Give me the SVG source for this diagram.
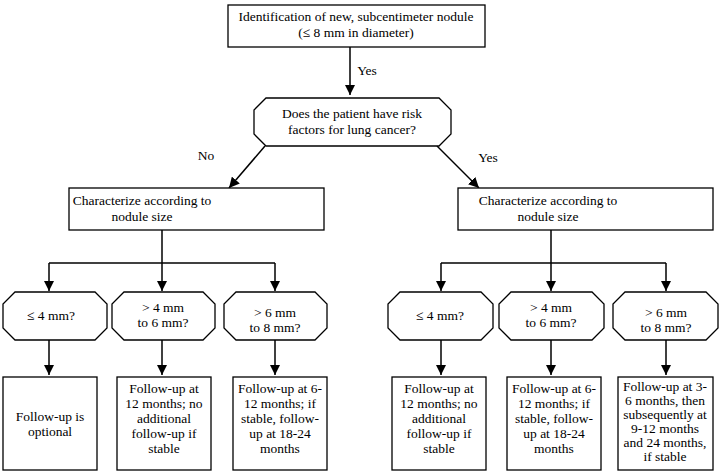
<svg xmlns="http://www.w3.org/2000/svg" width="720" height="475" viewBox="0 0 720 475" font-family="'Liberation Serif','Times New Roman','DejaVu Serif',serif">
<defs><marker id="a" viewBox="0 0 10 10" refX="10" refY="5" markerWidth="7" markerHeight="7" orient="auto"><path d="M0,0L10,5L0,10z" fill="#000"/></marker>
<style>.b{fill:#fff;stroke:#000;stroke-width:1.3}text{font-family:'Liberation Serif','Times New Roman','DejaVu Serif',serif;font-size:13.5px;text-anchor:middle}.c line{stroke:#000;stroke-width:1.5}.c .m{marker-end:url(#a)}</style></defs>
<rect width="720" height="475" fill="#fff"/>
<g class="c">
<line class="m" x1="350" y1="47" x2="350" y2="95"/>
<line class="m" x1="265" y1="146" x2="229" y2="188"/>
<line class="m" x1="437" y1="146" x2="479" y2="188"/>
<line x1="162" y1="230" x2="162" y2="263"/><line x1="49" y1="263" x2="275" y2="263"/>
<line class="m" x1="49" y1="263" x2="49" y2="291"/><line class="m" x1="162" y1="263" x2="162" y2="291"/><line class="m" x1="275" y1="263" x2="275" y2="291"/>
<line x1="551" y1="230" x2="551" y2="263"/><line x1="441" y1="263" x2="666" y2="263"/>
<line class="m" x1="441" y1="263" x2="441" y2="291"/><line class="m" x1="551" y1="263" x2="551" y2="291"/><line class="m" x1="666" y1="263" x2="666" y2="291"/>
<line class="m" x1="49" y1="340" x2="49" y2="375"/><line class="m" x1="162" y1="340" x2="162" y2="375"/><line class="m" x1="275" y1="340" x2="275" y2="375"/>
<line class="m" x1="441" y1="340" x2="441" y2="375"/><line class="m" x1="551" y1="340" x2="551" y2="375"/><line class="m" x1="666" y1="340" x2="666" y2="375"/>
<text x="367" y="75">Yes</text><text x="206" y="160">No</text><text x="488" y="162">Yes</text>
</g>
<g id="start"><rect class="b" x="228" y="5" width="257" height="42"/><text x="356" y="21">Identification of new, subcentimeter nodule</text><text x="356" y="37">(≤ 8 mm in diameter)</text></g>
<g id="risk"><polygon class="b" points="266,98 439,98 451,110 451,134 439,146 266,146 254,134 254,110"/><text x="352" y="118">Does the patient have risk</text><text x="352" y="134">factors for lung cancer?</text></g>
<g id="charL"><rect class="b" x="69" y="188" width="255" height="42"/><text x="142" y="205">Characterize according to</text><text x="142" y="221">nodule size</text></g>
<g id="charR"><rect class="b" x="458" y="188" width="255" height="42"/><text x="548" y="205">Characterize according to</text><text x="548" y="221">nodule size</text></g>
<g id="oL1"><polygon class="b" points="15,292 95,292 107,304 107,328 95,340 15,340 3,328 3,304"/><text x="51" y="320">≤ 4 mm?</text></g>
<g id="oL2"><polygon class="b" points="124,292 203,292 215,304 215,328 203,340 124,340 112,328 112,304"/><text x="163" y="312">&gt; 4 mm</text><text x="163" y="327">to 6 mm?</text></g>
<g id="oL3"><polygon class="b" points="236,292 315,292 327,304 327,328 315,340 236,340 224,328 224,304"/><text x="275" y="317">&gt; 6 mm</text><text x="275" y="332">to 8 mm?</text></g>
<g id="oR1"><polygon class="b" points="400,292 481,292 493,304 493,328 481,340 400,340 388,328 388,304"/><text x="440" y="320">≤ 4 mm?</text></g>
<g id="oR2"><polygon class="b" points="511,292 592,292 604,304 604,328 592,340 511,340 499,328 499,304"/><text x="551" y="312">&gt; 4 mm</text><text x="551" y="327">to 6 mm?</text></g>
<g id="oR3"><polygon class="b" points="625,292 706,292 718,304 718,328 706,340 625,340 613,328 613,304"/><text x="666" y="317">&gt; 6 mm</text><text x="666" y="332">to 8 mm?</text></g>
<g id="bL1"><rect class="b" x="3" y="377" width="94" height="93"/><text x="50" y="421">Follow-up is</text><text x="50" y="436">optional</text></g>
<g id="bL2"><rect class="b" x="117" y="377" width="94" height="93"/><text x="164" y="393">Follow-up at</text><text x="164" y="408">12 months; no</text><text x="164" y="423">additional</text><text x="164" y="438">follow-up if</text><text x="164" y="453">stable</text></g>
<g id="bL3"><rect class="b" x="233" y="377" width="94" height="93"/><text x="280" y="393">Follow-up at 6-</text><text x="280" y="408">12 months; if</text><text x="280" y="423">stable, follow-</text><text x="280" y="438">up at 18-24</text><text x="280" y="453">months</text></g>
<g id="bR1"><rect class="b" x="392" y="377" width="94" height="93"/><text x="439" y="393">Follow-up at</text><text x="439" y="408">12 months; no</text><text x="439" y="423">additional</text><text x="439" y="438">follow-up if</text><text x="439" y="453">stable</text></g>
<g id="bR2"><rect class="b" x="507" y="377" width="94" height="93"/><text x="554" y="393">Follow-up at 6-</text><text x="554" y="408">12 months; if</text><text x="554" y="423">stable, follow-</text><text x="554" y="438">up at 18-24</text><text x="554" y="453">months</text></g>
<g id="bR3"><rect class="b" x="618" y="377" width="95" height="93"/><text x="665" y="391">Follow-up at 3-</text><text x="665" y="405">6 months, then</text><text x="665" y="419">subsequently at</text><text x="665" y="433">9-12 months</text><text x="665" y="447">and 24 months,</text><text x="665" y="461">if stable</text></g>
</svg>
